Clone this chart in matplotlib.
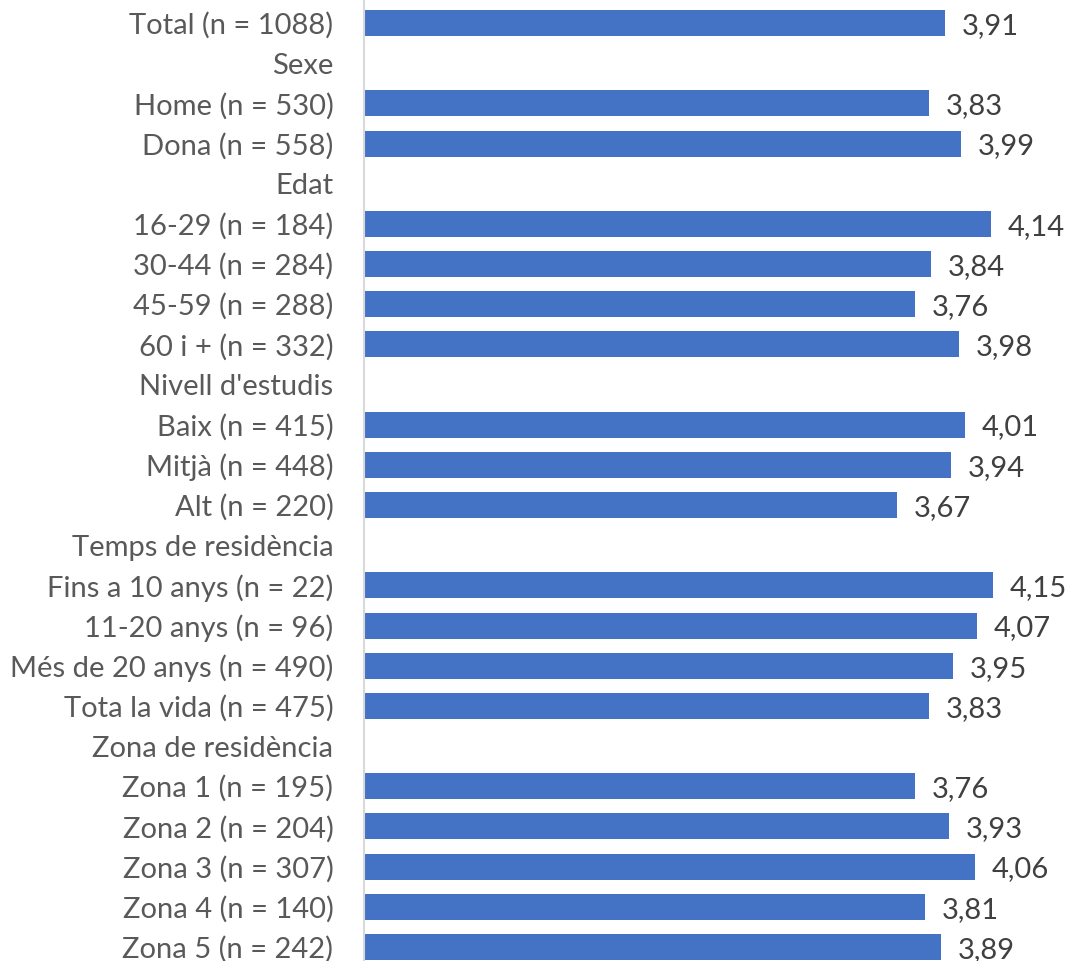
import matplotlib
matplotlib.use("Agg")
import matplotlib.pyplot as plt

# row labels, top to bottom (group headers have no value)
labels = [
    "Total (n = 1088)", "Sexe", "Home (n = 530)", "Dona (n = 558)",
    "Edat", "16-29 (n = 184)", "30-44 (n = 284)", "45-59 (n = 288)", "60 i + (n = 332)",
    "Nivell d'estudis", "Baix (n = 415)", "Mitjà (n = 448)", "Alt (n = 220)",
    "Temps de residència", "Fins a 10 anys (n = 22)", "11-20 anys (n = 96)",
    "Més de 20 anys (n = 490)", "Tota la vida (n = 475)",
    "Zona de residència", "Zona 1 (n = 195)", "Zona 2 (n = 204)", "Zona 3 (n = 307)",
    "Zona 4 (n = 140)", "Zona 5 (n = 242)",
]
values = [
    3.91, None, 3.83, 3.99,
    None, 4.14, 3.84, 3.76, 3.98,
    None, 4.01, 3.94, 3.67,
    None, 4.15, 4.07, 3.95, 3.83,
    None, 3.76, 3.93, 4.06, 3.81, 3.89,
]

plt.rcParams['font.family'] = ['Lato', 'DejaVu Sans']

fig = plt.figure(figsize=(10.68, 9.61), dpi=100)
ax = fig.add_axes([364 / 1068, 0, 1 - 364 / 1068, 1])

rows = list(range(len(labels)))
for r, v in zip(rows, values):
    if v is None:
        continue
    ax.barh(r, v - 1.0, left=1.0, height=0.65, color="#4472C4")
    ax.annotate(f"{v:.2f}".replace(".", ","), (v, r), xytext=(12, -2),
                textcoords="offset points", va="center", ha="left",
                fontsize=21, color="#404040")

ax.set_xlim(1.005, 4.525)
ax.set_ylim(23.35, -0.575)
ax.set_yticks(rows)
ax.set_yticklabels(labels, fontsize=21, color="#595959")
ax.tick_params(axis="y", length=0, pad=22)
ax.set_xticks([])
for s in ["top", "right", "bottom"]:
    ax.spines[s].set_visible(False)
ax.spines["left"].set_color("#D9D9D9")
ax.spines["left"].set_linewidth(1.5)

fig.savefig("out.png", dpi=100)
